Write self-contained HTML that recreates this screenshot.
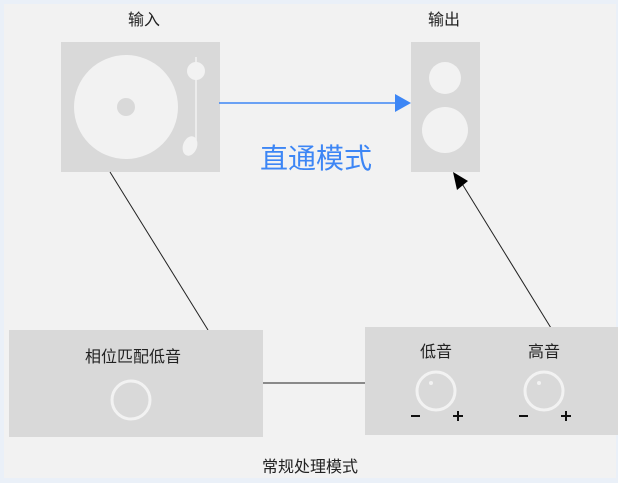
<!DOCTYPE html>
<html><head><meta charset="utf-8"><style>
html,body{margin:0;padding:0;width:618px;height:483px;overflow:hidden;background:#eaf0f8;}
svg{display:block;}
text{font-family:"Liberation Sans","Noto Sans CJK SC",sans-serif;fill:#222;}
</style></head><body>
<svg width="618" height="483" viewBox="0 0 618 483" xmlns="http://www.w3.org/2000/svg">
<rect x="0" y="0" width="618" height="483" fill="#eaf0f8"/>
<rect x="4" y="4" width="612" height="474" fill="#f2f2f2"/>
<text x="144" y="25" font-size="16" text-anchor="middle">输入</text>
<text x="444" y="25" font-size="16" text-anchor="middle">输出</text>
<!-- turntable -->
<rect x="61" y="42" width="159" height="130" fill="#d9d9d9"/>
<circle cx="126" cy="107" r="52" fill="#f2f2f2"/>
<circle cx="126" cy="107" r="9" fill="#d9d9d9"/>
<line x1="196" y1="57" x2="196" y2="140" stroke="#f2f2f2" stroke-width="1.5"/>
<circle cx="196" cy="71" r="9" fill="#f2f2f2"/>
<ellipse cx="190" cy="146" rx="7" ry="10" transform="rotate(20 190 146)" fill="#f2f2f2"/>
<!-- speaker -->
<rect x="411" y="42" width="69" height="130" fill="#d9d9d9"/>
<ellipse cx="445" cy="78" rx="16" ry="16" fill="#f2f2f2"/>
<ellipse cx="445" cy="130" rx="23" ry="23" fill="#f2f2f2"/>
<!-- blue arrow -->
<line x1="219" y1="103" x2="397" y2="103" stroke="#3d86f5" stroke-width="1.5"/>
<polygon points="395,94 411,103 395,112" fill="#3d86f5"/>
<text x="316" y="168" font-size="28" text-anchor="middle" style="fill:#3d86f5">直通模式</text>
<!-- connectors -->
<line x1="110" y1="172" x2="208" y2="330" stroke="#222" stroke-width="1"/>
<line x1="551" y1="328" x2="461" y2="182" stroke="#222" stroke-width="1"/>
<polygon points="453,172 468,181 457,190" fill="#000"/>
<line x1="263" y1="383" x2="365" y2="383" stroke="#222" stroke-width="1"/>
<!-- left box -->
<rect x="9" y="330" width="254" height="107" fill="#d9d9d9"/>
<text x="133" y="362" font-size="16" text-anchor="middle">相位匹配低音</text>
<circle cx="131" cy="400" r="19" fill="none" stroke="#f2f2f2" stroke-width="3"/>
<!-- right box -->
<rect x="365" y="327" width="253" height="108" fill="#d9d9d9"/>
<text x="436" y="357" font-size="16" text-anchor="middle">低音</text>
<text x="544" y="357" font-size="16" text-anchor="middle">高音</text>
<circle cx="436" cy="391" r="19" fill="none" stroke="#f2f2f2" stroke-width="3"/>
<circle cx="431" cy="383" r="2" fill="#f2f2f2"/>
<circle cx="544" cy="391" r="19" fill="none" stroke="#f2f2f2" stroke-width="3"/>
<circle cx="539" cy="383" r="2" fill="#f2f2f2"/>
<g stroke="#111" stroke-width="2">
<line x1="411" y1="416" x2="420" y2="416"/>
<line x1="453" y1="416" x2="463" y2="416"/><line x1="458" y1="411" x2="458" y2="421"/>
<line x1="519" y1="416" x2="528" y2="416"/>
<line x1="561" y1="416" x2="571" y2="416"/><line x1="566" y1="411" x2="566" y2="421"/>
</g>
<text x="310" y="472" font-size="16" text-anchor="middle">常规处理模式</text>
</svg>
</body></html>
